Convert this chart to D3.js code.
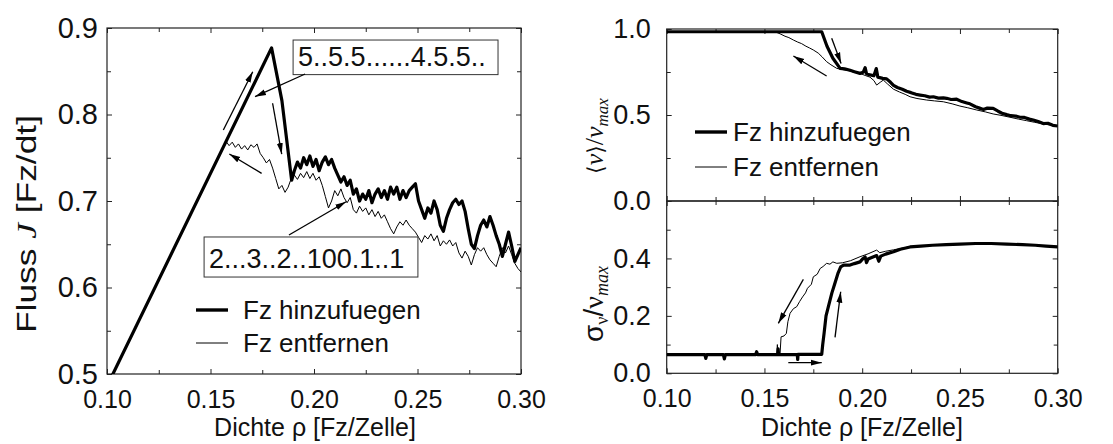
<!DOCTYPE html>
<html>
<head>
<meta charset="utf-8">
<script src="https://cdn.jsdelivr.net/npm/d3@7"></script>
<style>
    body { margin: 0; background: #fff; }
    svg { display: block; font-family: "Liberation Sans", Arial, sans-serif; }
</style>
</head>
<body>
<svg id="chart" width="1113" height="444"></svg>
<script>
    "use strict";

    // axis ticks
    var rhoTicks = [0.10, 0.15, 0.20, 0.25, 0.30];
    var rhoMinor = [0.125, 0.175, 0.225, 0.275];
    var fluxTicks = [0.5, 0.6, 0.7, 0.8, 0.9];
    var fluxMinor = [0.55, 0.65, 0.75, 0.85];
    var velTicks = [0.0, 0.5, 1.0];
    var velMinor = [0.25, 0.75];
    var sigmaTicks = [0.0, 0.2, 0.4];
    var sigmaMinor = [0.1, 0.3, 0.5];

    var legendLabels = ["Fz hinzufuegen", "Fz entfernen"];

    // Fluss J, adding vehicles (thick)
    var fluxAdd = [
        [0.100, 0.486], [0.1795, 0.877], [0.1845, 0.816], [0.1892, 0.724],
        [0.1905, 0.735], [0.192, 0.745], [0.1935, 0.738], [0.195, 0.750], [0.1965, 0.742],
        [0.198, 0.752], [0.1995, 0.740], [0.201, 0.748], [0.2025, 0.735], [0.204, 0.745],
        [0.2055, 0.751], [0.207, 0.742], [0.2085, 0.748], [0.210, 0.738], [0.2115, 0.730],
        [0.213, 0.722], [0.2145, 0.728], [0.216, 0.718], [0.2175, 0.724], [0.219, 0.708],
        [0.2205, 0.714], [0.222, 0.700], [0.2235, 0.708], [0.225, 0.702], [0.2265, 0.712],
        [0.228, 0.698], [0.2295, 0.708], [0.231, 0.714], [0.2325, 0.704], [0.234, 0.712],
        [0.2355, 0.702], [0.237, 0.716], [0.2385, 0.708], [0.240, 0.716], [0.2415, 0.702],
        [0.243, 0.712], [0.2445, 0.704], [0.246, 0.712], [0.2475, 0.716], [0.249, 0.720],
        [0.2505, 0.700], [0.252, 0.690], [0.2535, 0.680], [0.255, 0.692], [0.2565, 0.686],
        [0.258, 0.700], [0.2595, 0.690], [0.261, 0.672], [0.2625, 0.665], [0.264, 0.680],
        [0.2655, 0.690], [0.267, 0.698], [0.2685, 0.702], [0.270, 0.696], [0.2715, 0.700],
        [0.273, 0.688], [0.2745, 0.668], [0.276, 0.650], [0.2775, 0.645], [0.279, 0.660],
        [0.2805, 0.672], [0.282, 0.678], [0.2835, 0.670], [0.285, 0.682], [0.2865, 0.672],
        [0.288, 0.660], [0.2895, 0.650], [0.291, 0.636], [0.2925, 0.650], [0.294, 0.664],
        [0.2955, 0.648], [0.297, 0.630], [0.2985, 0.638], [0.300, 0.646]
    ];

    // Fluss J, removing vehicles (thin)
    var fluxRemove = [
        [0.100, 0.486], [0.1575, 0.769], [0.159, 0.764], [0.1605, 0.768], [0.162, 0.762],
        [0.1635, 0.766], [0.165, 0.760], [0.1665, 0.764], [0.168, 0.759], [0.1695, 0.765],
        [0.171, 0.762], [0.1725, 0.766], [0.174, 0.755], [0.1755, 0.750], [0.177, 0.744],
        [0.1785, 0.748], [0.180, 0.738], [0.1815, 0.726], [0.183, 0.714], [0.1845, 0.718],
        [0.186, 0.710], [0.1875, 0.716], [0.189, 0.726], [0.1905, 0.730], [0.192, 0.725],
        [0.1935, 0.732], [0.195, 0.727], [0.1965, 0.734], [0.198, 0.726], [0.1995, 0.732],
        [0.201, 0.724], [0.2025, 0.728], [0.204, 0.718], [0.2055, 0.705], [0.207, 0.692],
        [0.2085, 0.700], [0.210, 0.712], [0.2115, 0.706], [0.213, 0.714], [0.2145, 0.704],
        [0.216, 0.698], [0.2175, 0.704], [0.219, 0.690], [0.2205, 0.686], [0.222, 0.694],
        [0.2235, 0.688], [0.225, 0.692], [0.2265, 0.684], [0.228, 0.690], [0.2295, 0.682],
        [0.231, 0.688], [0.2325, 0.680], [0.234, 0.684], [0.2355, 0.676], [0.237, 0.668],
        [0.2385, 0.662], [0.240, 0.670], [0.2415, 0.676], [0.243, 0.672], [0.2445, 0.678],
        [0.246, 0.672], [0.2475, 0.668], [0.249, 0.664], [0.2505, 0.658], [0.252, 0.652],
        [0.2535, 0.660], [0.255, 0.656], [0.2565, 0.662], [0.258, 0.654], [0.2595, 0.660],
        [0.261, 0.648], [0.2625, 0.654], [0.264, 0.650], [0.2655, 0.655], [0.267, 0.648],
        [0.2685, 0.652], [0.270, 0.640], [0.2715, 0.634], [0.273, 0.642], [0.2745, 0.636],
        [0.276, 0.626], [0.2775, 0.638], [0.279, 0.646], [0.2805, 0.642], [0.282, 0.646],
        [0.2835, 0.638], [0.285, 0.632], [0.2865, 0.628], [0.288, 0.624], [0.2895, 0.636],
        [0.291, 0.646], [0.2925, 0.640], [0.294, 0.648], [0.2955, 0.638], [0.297, 0.628],
        [0.2985, 0.622], [0.300, 0.618]
    ];

    // <v>/vmax
    var velAdd = [
        [0.100, 0.984], [0.1793, 0.984], [0.182, 0.900], [0.185, 0.830], [0.1887, 0.771],
        [0.191, 0.768], [0.1938, 0.760], [0.196, 0.752], [0.1989, 0.742], [0.2005, 0.748],
        [0.2015, 0.775], [0.2022, 0.740], [0.204, 0.733], [0.206, 0.728], [0.2072, 0.770],
        [0.208, 0.720], [0.2105, 0.713], [0.2125, 0.710], [0.2145, 0.690], [0.216, 0.672],
        [0.218, 0.660], [0.2205, 0.650], [0.2227, 0.638], [0.225, 0.630], [0.2275, 0.620],
        [0.2296, 0.616], [0.232, 0.612], [0.2345, 0.604], [0.2364, 0.606], [0.239, 0.598],
        [0.2415, 0.600], [0.2432, 0.597], [0.2455, 0.590], [0.2483, 0.592], [0.251, 0.578],
        [0.2535, 0.570], [0.2551, 0.565], [0.258, 0.548], [0.260, 0.540], [0.262, 0.532],
        [0.264, 0.540], [0.267, 0.538], [0.2695, 0.522], [0.2715, 0.510], [0.2739, 0.502],
        [0.276, 0.496], [0.2785, 0.494], [0.2807, 0.487], [0.283, 0.486], [0.2855, 0.476],
        [0.2875, 0.471], [0.290, 0.462], [0.2926, 0.450], [0.295, 0.452], [0.2975, 0.440],
        [0.300, 0.436]
    ];
    var velRemove = [
        [0.100, 0.984], [0.1554, 0.984], [0.158, 0.972], [0.1605, 0.958], [0.1625, 0.950],
        [0.1648, 0.936], [0.167, 0.924], [0.169, 0.915], [0.1712, 0.900], [0.173, 0.890],
        [0.175, 0.878], [0.1775, 0.860], [0.1795, 0.838], [0.1818, 0.810], [0.184, 0.792],
        [0.187, 0.771], [0.190, 0.764], [0.193, 0.758], [0.196, 0.748], [0.1989, 0.742],
        [0.2015, 0.730], [0.204, 0.720], [0.206, 0.700], [0.2074, 0.674], [0.2092, 0.690],
        [0.2108, 0.703], [0.213, 0.680], [0.216, 0.650], [0.219, 0.634], [0.222, 0.620],
        [0.2245, 0.606], [0.228, 0.596], [0.233, 0.587], [0.237, 0.582], [0.2415, 0.577],
        [0.246, 0.565], [0.250, 0.552], [0.254, 0.542], [0.2586, 0.529], [0.263, 0.518],
        [0.267, 0.506], [0.271, 0.498], [0.2756, 0.487], [0.280, 0.476], [0.2841, 0.467],
        [0.288, 0.458], [0.2926, 0.448], [0.296, 0.442], [0.300, 0.436]
    ];

    // sigma_v/vmax
    var sigmaAdd = [
        [0.100, 0.065], [0.1195, 0.065], [0.120, 0.052], [0.1205, 0.065], [0.129, 0.065],
        [0.1295, 0.050], [0.130, 0.065], [0.1455, 0.065], [0.146, 0.075], [0.1465, 0.065],
        [0.1568, 0.065], [0.157, 0.085], [0.1572, 0.065], [0.1668, 0.065], [0.167, 0.048],
        [0.1672, 0.066], [0.1793, 0.066], [0.1798, 0.100], [0.1805, 0.139], [0.1815, 0.200],
        [0.1827, 0.232], [0.1845, 0.280], [0.186, 0.313], [0.1877, 0.350], [0.189, 0.371],
        [0.1905, 0.377], [0.1938, 0.377], [0.196, 0.382], [0.1989, 0.388], [0.2005, 0.400],
        [0.2015, 0.405], [0.2022, 0.385], [0.203, 0.398], [0.2055, 0.405], [0.2074, 0.410],
        [0.2085, 0.390], [0.2095, 0.408], [0.212, 0.415], [0.216, 0.423], [0.2195, 0.432],
        [0.2245, 0.440], [0.230, 0.443], [0.236, 0.446], [0.243, 0.448], [0.250, 0.450],
        [0.258, 0.452], [0.266, 0.452], [0.274, 0.450], [0.282, 0.448], [0.2885, 0.446],
        [0.294, 0.443], [0.300, 0.440]
    ];
    var sigmaRemove = [
        [0.100, 0.065], [0.1563, 0.065], [0.1566, 0.100], [0.157, 0.068], [0.158, 0.070],
        [0.1585, 0.127], [0.160, 0.130], [0.1612, 0.139], [0.162, 0.180], [0.1631, 0.209],
        [0.1648, 0.225], [0.1665, 0.232], [0.168, 0.250], [0.1695, 0.266], [0.171, 0.280],
        [0.172, 0.296], [0.174, 0.310], [0.175, 0.336], [0.177, 0.345], [0.1785, 0.365],
        [0.180, 0.372], [0.1818, 0.383], [0.1835, 0.380], [0.185, 0.388], [0.187, 0.383],
        [0.190, 0.385], [0.194, 0.392], [0.1989, 0.406], [0.203, 0.416], [0.2074, 0.429],
        [0.209, 0.420], [0.212, 0.425], [0.216, 0.430], [0.2245, 0.441], [0.236, 0.446],
        [0.250, 0.450], [0.266, 0.452], [0.282, 0.448], [0.300, 0.440]
    ];

    // annotations in data coordinates: [x1, y1, x2, y2], head at (x2, y2)
    var fluxArrows = [
        [0.1562, 0.782, 0.1704, 0.8495],
        [0.1957, 0.8468, 0.1715, 0.8206],
        [0.1800, 0.8130, 0.1844, 0.7543],
        [0.1747, 0.7320, 0.1591, 0.7543],
        [0.1879, 0.6607, 0.2155, 0.6992]
    ];
    var fluxBoxes = [
        { text: "5..5.5......4.5.5..", x0: 0.1899, x1: 0.2889, y0: 0.8861, y1: 0.8461 },
        { text: "2...3..2..100.1..1", x0: 0.1469, x1: 0.2502, y0: 0.6584, y1: 0.6121 }
    ];
    var velArrows = [
        [0.1818, 0.727, 0.1648, 0.843],
        [0.1844, 0.946, 0.1892, 0.800]
    ];
    var sigmaArrows = [
        [0.1699, 0.327, 0.1571, 0.174],
        [0.1861, 0.125, 0.1890, 0.284],
        [0.1622, 0.037, 0.1793, 0.037]
    ];

    var svg = d3.select("#chart");
    var xTickFont = 25;
    var legendFont = 26;

    var defs = svg.append("defs");
    defs.append("marker")
        .attr("id", "head")
        .attr("markerUnits", "userSpaceOnUse")
        .attr("markerWidth", 12)
        .attr("markerHeight", 8)
        .attr("refX", 11)
        .attr("refY", 4)
        .attr("orient", "auto")
        .append("path")
        .attr("d", "M0,1 L11,4 L0,7 Z")
        .attr("fill", "#000");

    function panel(id, box, xDom, yDom) {
        var x = d3.scaleLinear().domain(xDom).range([box.left, box.right]);
        var y = d3.scaleLinear().domain(yDom).range([box.bottom, box.top]);
        defs.append("clipPath").attr("id", "clip-" + id)
            .append("rect")
            .attr("x", box.left).attr("y", box.top)
            .attr("width", box.right - box.left)
            .attr("height", box.bottom - box.top);
        var g = svg.append("g").attr("class", "panel-" + id);
        return { x: x, y: y, g: g, box: box, id: id };
    }

    function styleAxis(sel, size) {
        sel.select(".domain").remove();
        sel.selectAll("line").attr("stroke", "#222").attr("stroke-width", 1);
        sel.selectAll("text")
            .attr("font-family", "'Liberation Sans', Arial, sans-serif")
            .attr("font-size", size)
            .attr("fill", "#111");
    }

    function axes(p, opt) {
        var b = p.box;
        // bottom
        var gb = p.g.append("g").attr("transform", "translate(0," + b.bottom + ")")
            .call(d3.axisBottom(p.x).tickValues(rhoTicks)
                .tickSize(-5).tickPadding(16)
                .tickFormat(opt.showX ? d3.format(".2f") : ""));
        styleAxis(gb, xTickFont);
        var gbm = p.g.append("g").attr("transform", "translate(0," + b.bottom + ")")
            .call(d3.axisBottom(p.x).tickValues(rhoMinor).tickSize(-4).tickFormat(""));
        styleAxis(gbm, xTickFont);
        // top
        [rhoTicks, rhoMinor].forEach(function (tv, i) {
            var gt = p.g.append("g").attr("transform", "translate(0," + b.top + ")")
                .call(d3.axisTop(p.x).tickValues(tv).tickSize(i ? -4 : -5).tickFormat(""));
            styleAxis(gt, xTickFont);
        });
        // left
        var gl = p.g.append("g").attr("transform", "translate(" + b.left + ",0)")
            .call(d3.axisLeft(p.y).tickValues(opt.yTicks).tickSize(-5)
                .tickPadding(opt.yPad).tickFormat(d3.format(".1f")));
        styleAxis(gl, opt.yFont);
        var glm = p.g.append("g").attr("transform", "translate(" + b.left + ",0)")
            .call(d3.axisLeft(p.y).tickValues(opt.yMinor).tickSize(-4).tickFormat(""));
        styleAxis(glm, opt.yFont);
        // right
        [opt.yTicks, opt.yMinor].forEach(function (tv, i) {
            var gr = p.g.append("g").attr("transform", "translate(" + b.right + ",0)")
                .call(d3.axisRight(p.y).tickValues(tv).tickSize(i ? -4 : -5).tickFormat(""));
            styleAxis(gr, opt.yFont);
        });
        p.g.append("rect")
            .attr("x", b.left).attr("y", b.top)
            .attr("width", b.right - b.left).attr("height", b.bottom - b.top)
            .attr("fill", "none").attr("stroke", "#222").attr("stroke-width", 1.2);
    }

    function series(p, data, width) {
        var line = d3.line()
            .x(function (d) { return p.x(d[0]); })
            .y(function (d) { return p.y(d[1]); });
        p.g.append("path")
            .datum(data)
            .attr("clip-path", "url(#clip-" + p.id + ")")
            .attr("d", line)
            .attr("fill", "none")
            .attr("stroke", "#000")
            .attr("stroke-width", width)
            .attr("stroke-linejoin", "round");
    }

    function arrows(p, list) {
        p.g.selectAll(".arrow-" + p.id)
            .data(list)
            .enter()
            .append("line")
            .attr("class", "arrow-" + p.id)
            .attr("x1", function (d) { return p.x(d[0]); })
            .attr("y1", function (d) { return p.y(d[1]); })
            .attr("x2", function (d) { return p.x(d[2]); })
            .attr("y2", function (d) { return p.y(d[3]); })
            .attr("stroke", "#000")
            .attr("stroke-width", 1.3)
            .attr("marker-end", "url(#head)");
    }

    function legend(p, lx, ly, gap, textX) {
        var widths = [3.4, 1];
        var lg = p.g.selectAll(".legend-" + p.id)
            .data(legendLabels)
            .enter()
            .append("g")
            .attr("class", "legend-" + p.id)
            .attr("transform", function (d, i) {
                return "translate(" + lx + "," + (ly + i * gap) + ")";
            });
        lg.append("line")
            .attr("x1", 0).attr("x2", 32)
            .attr("stroke", "#000")
            .attr("stroke-width", function (d, i) { return widths[i]; });
        lg.append("text")
            .attr("x", textX)
            .attr("y", 9)
            .attr("font-size", legendFont)
            .attr("fill", "#111")
            .text(function (d) { return d; });
    }

    // ---- left: Fluss ----
    var pf = panel("flux", { left: 107, right: 521, top: 28, bottom: 374 }, [0.1, 0.3], [0.5, 0.9]);
    axes(pf, { showX: true, yTicks: fluxTicks, yMinor: fluxMinor, yPad: 9, yFont: 29 });
    series(pf, fluxRemove, 1);
    series(pf, fluxAdd, 3.2);
    var boxes = pf.g.selectAll(".note").data(fluxBoxes).enter().append("g").attr("class", "note");
    boxes.append("rect")
        .attr("x", function (d) { return pf.x(d.x0); })
        .attr("y", function (d) { return pf.y(d.y0); })
        .attr("width", function (d) { return pf.x(d.x1) - pf.x(d.x0); })
        .attr("height", function (d) { return pf.y(d.y1) - pf.y(d.y0); })
        .attr("fill", "#fff")
        .attr("stroke", "#333")
        .attr("stroke-width", 1);
    boxes.append("text")
        .attr("x", function (d) { return pf.x(d.x0) + 5; })
        .attr("y", function (d) { return pf.y(d.y1) - 9; })
        .attr("font-size", 27)
        .attr("fill", "#111")
        .text(function (d) { return d.text; });
    arrows(pf, fluxArrows);
    legend(pf, 196, 310, 33, 47);

    svg.append("text")
        .attr("transform", "translate(36,224) rotate(-90)")
        .attr("text-anchor", "middle")
        .attr("font-size", 28)
        .attr("textLength", 218)
        .attr("lengthAdjust", "spacingAndGlyphs")
        .attr("fill", "#111")
        .html("Fluss <tspan font-style='italic' font-family='Liberation Serif'>J</tspan> [Fz/dt]");
    svg.append("text")
        .attr("x", 315).attr("y", 436)
        .attr("text-anchor", "middle")
        .attr("font-size", 25)
        .attr("fill", "#111")
        .text("Dichte \u03c1 [Fz/Zelle]");

    // ---- right top: <v>/vmax ----
    var pv = panel("vel", { left: 666.7, right: 1057.7, top: 29, bottom: 201 }, [0.1, 0.3], [0, 1]);
    axes(pv, { showX: false, yTicks: velTicks, yMinor: velMinor, yPad: 16, yFont: 27 });
    series(pv, velRemove, 1);
    series(pv, velAdd, 3.2);
    arrows(pv, velArrows);
    legend(pv, 695, 132, 35, 38);

    svg.append("text")
        .attr("transform", "translate(603,136) rotate(-90)")
        .attr("text-anchor", "middle")
        .attr("font-size", 26)
        .attr("fill", "#111")
        .attr("font-family", "'Liberation Serif', 'DejaVu Serif', serif")
        .html("<tspan font-family='DejaVu Serif' font-size='22'>\u27e8</tspan><tspan font-style='italic'>v</tspan><tspan font-family='DejaVu Serif' font-size='22'>\u27e9</tspan>/<tspan font-style='italic'>v</tspan><tspan font-style='italic' font-size='17' dy='5'>max</tspan>");

    // ---- right bottom: sigma ----
    var ps = panel("sig", { left: 666.7, right: 1057.7, top: 201, bottom: 373.3 }, [0.1, 0.3], [0, 0.6]);
    axes(ps, { showX: true, yTicks: sigmaTicks, yMinor: sigmaMinor, yPad: 16, yFont: 27 });
    series(ps, sigmaRemove, 1);
    series(ps, sigmaAdd, 3.2);
    arrows(ps, sigmaArrows);

    svg.append("text")
        .attr("transform", "translate(603,304) rotate(-90)")
        .attr("text-anchor", "middle")
        .attr("font-size", 28)
        .attr("fill", "#111")
        .html("\u03c3<tspan font-family='Liberation Serif' font-size='18' dy='5'>\u03bd</tspan><tspan dy='-5'>/</tspan><tspan font-family='Liberation Serif'>\u03bd</tspan><tspan font-family='Liberation Serif' font-style='italic' font-size='18' dy='5'>max</tspan>");
    svg.append("text")
        .attr("x", 862).attr("y", 436)
        .attr("text-anchor", "middle")
        .attr("font-size", 25)
        .attr("fill", "#111")
        .text("Dichte \u03c1 [Fz/Zelle]");
</script>
</body>
</html>
